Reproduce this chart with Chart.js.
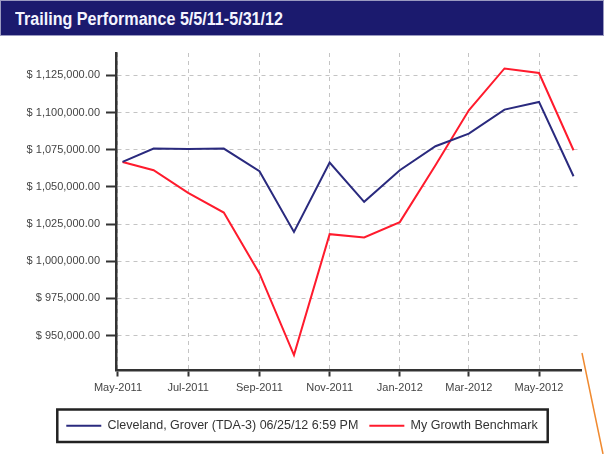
<!DOCTYPE html>
<html>
<head>
<meta charset="utf-8">
<script src="https://cdn.jsdelivr.net/npm/chart.js@4/dist/chart.umd.min.js"></script>
<style>
  html, body { margin: 0; padding: 0; background: #fff; }
  #title {
    width: 602px; height: 34px; line-height: 36px; overflow: hidden;
    background: #1b1a6e; border: 1px solid #9a9ac0;
  }
  #title span {
    display: inline-block; margin-left: 14px; transform-origin: 0 50%;
    color: #f4f4ff; font-family: "Liberation Sans", Arial, sans-serif;
    font-weight: bold; font-size: 18px; white-space: nowrap;
  }
  #wrap { position: relative; width: 604px; height: 418px; }
</style>
</head>
<body>
<div id="title"><span id="titleText">Trailing Performance 5/5/11-5/31/12</span></div>
<div id="wrap"><canvas id="perfChart"></canvas></div>
<script>
// Valuation dates (ISO) and the two series
const dates = ['2011-05-05', '2011-06-01', '2011-07-01', '2011-08-01', '2011-09-01', '2011-10-01', '2011-11-01',
               '2011-12-01', '2012-01-01', '2012-02-01', '2012-03-01', '2012-04-01', '2012-05-01', '2012-05-31'];
const accountValues = [1066750, 1075750, 1075500, 1075750, 1060500, 1019700, 1066300,
                       1039900, 1061200, 1077300, 1085800, 1101950, 1107100, 1057100];
const benchmarkValues = [1066750, 1061200, 1045900, 1032700, 991750, 936900, 1018200,
                         1015950, 1026300, 1064500, 1101500, 1129600, 1126550, 1074600];

// Axis ticks
const xTickDates = ['2011-05-01', '2011-07-01', '2011-09-01', '2011-11-01', '2012-01-01', '2012-03-01', '2012-05-01'];
const xTickLabels = ['May-2011', 'Jul-2011', 'Sep-2011', 'Nov-2011', 'Jan-2012', 'Mar-2012', 'May-2012'];
const yTicks = [950000, 975000, 1000000, 1025000, 1050000, 1075000, 1100000, 1125000];

const seriesNames = ['Cleveland, Grover (TDA-3) 06/25/12 6:59 PM', 'My Growth Benchmark'];

// squeeze the header text into a condensed look
const titleEl = document.getElementById('titleText');
titleEl.style.transform = 'scaleX(' + (268 / titleEl.getBoundingClientRect().width) + ')';

// days since 1 May 2011
const origin = Date.parse('2011-05-01');
const dayOf = d => (Date.parse(d) - origin) / 86400000;
const toPoints = vals => vals.map((v, i) => ({ x: dayOf(dates[i]), y: v }));

const money = v => '$ ' + v.toLocaleString('en-US', { minimumFractionDigits: 2, maximumFractionDigits: 2 });

// centre the legend on the page instead of the padded layout box,
// then frame it and add the small orange pointer stroke
const extras = {
  id: 'extras',
  afterLayout(chart) {
    const lg = chart.legend;
    const shift = (chart.width - (lg.left + lg.right)) / 2;
    lg.left += shift;
    lg.right += shift;
  },
  afterDraw(chart) {
    const ctx = chart.ctx;
    const boxes = chart.legend.legendHitBoxes;
    if (boxes && boxes.length) {
      const left = Math.min(...boxes.map(b => b.left)) - 9;
      const right = Math.max(...boxes.map(b => b.left + b.width)) + 10;
      ctx.save();
      ctx.strokeStyle = '#222';
      ctx.lineWidth = 2.5;
      ctx.strokeRect(left, chart.legend.top + 1, right - left, chart.legend.height - 1);
      ctx.restore();
    }
    ctx.save();
    ctx.strokeStyle = '#f08a30';
    ctx.lineWidth = 1.5;
    ctx.beginPath();
    ctx.moveTo(582, 317);
    ctx.lineTo(603, 418);
    ctx.stroke();
    ctx.restore();
  }
};

new Chart(document.getElementById('perfChart'), {
  type: 'line',
  data: {
    datasets: [{
      label: seriesNames[0],
      data: toPoints(accountValues),
      borderColor: '#2a2a7e',
      backgroundColor: '#2a2a7e',
      borderWidth: 2,
      pointRadius: 0,
      tension: 0
    }, {
      label: seriesNames[1],
      data: toPoints(benchmarkValues),
      borderColor: '#ff1b2d',
      backgroundColor: '#ff1b2d',
      borderWidth: 2,
      pointRadius: 0,
      tension: 0
    }]
  },
  options: {
    responsive: true,
    maintainAspectRatio: false,
    animation: false,
    layout: { padding: { top: 17, right: 23, left: 0, bottom: 12 } },
    plugins: {
      legend: {
        position: 'bottom',
        labels: {
          usePointStyle: true,
          pointStyle: 'line',
          pointStyleWidth: 35,
          padding: 11,
          color: '#333',
          font: { family: 'Liberation Sans, Arial, sans-serif', size: 12.5 }
        }
      },
      tooltip: { enabled: false }
    },
    scales: {
      x: {
        type: 'linear',
        min: -1.7,
        max: 402.5,
        afterBuildTicks: s => { s.ticks = xTickDates.map(d => ({ value: dayOf(d) })); },
        afterFit: s => { s.height = 38; },
        ticks: {
          autoSkip: false,
          maxRotation: 0,
          padding: 5,
          color: '#444',
          font: { family: 'Liberation Sans, Arial, sans-serif', size: 11 },
          callback: (v, i) => xTickLabels[i]
        },
        grid: { color: '#c4c4c4', lineWidth: 1, tickLength: 6, tickColor: '#333', tickWidth: 2 },
        border: { display: true, color: '#333', width: 2.5, dash: [4, 4] }
      },
      y: {
        min: 926500,
        max: 1140000,
        afterBuildTicks: s => { s.ticks = yTicks.map(v => ({ value: v })); },
        afterFit: s => { s.width = 116; },
        ticks: {
          autoSkip: false,
          padding: 6,
          color: '#444',
          font: { family: 'Liberation Sans, Arial, sans-serif', size: 11 },
          callback: v => money(v)
        },
        grid: { color: '#c4c4c4', lineWidth: 1, tickLength: 10, tickColor: '#333', tickWidth: 2 },
        border: { display: true, color: '#333', width: 2.5, dash: [4, 4] }
      }
    }
  },
  plugins: [extras]
});
</script>
</body>
</html>
